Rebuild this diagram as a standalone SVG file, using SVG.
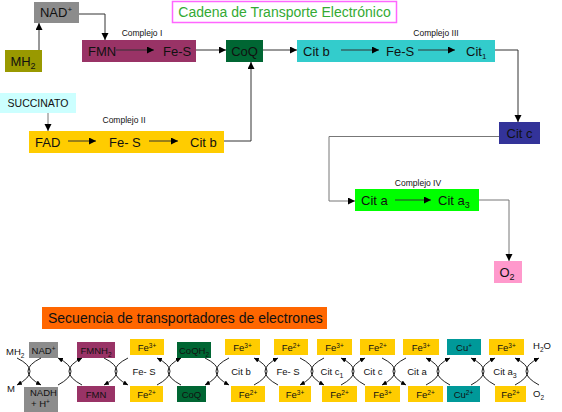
<svg xmlns="http://www.w3.org/2000/svg" width="562" height="412" viewBox="0 0 562 412">
<style>
text{font-family:"Liberation Sans",Arial,sans-serif;fill:#111}
.m{font-size:13px}
.c{font-size:8.5px}
.s{font-size:9.5px}
.t{text-anchor:middle}
.conn path{fill:none;stroke:#333;stroke-width:1}
.conn path.g{stroke:#777}
.arc path{fill:none;stroke:#222;stroke-width:1;marker-end:url(#ah2)}
</style>
<defs>
<marker id="ah" markerUnits="userSpaceOnUse" markerWidth="8" markerHeight="8" refX="7" refY="3.5" orient="auto"><path d="M0,0 L7,3.5 L0,7 z" fill="#000"/></marker>
<marker id="ah2" markerUnits="userSpaceOnUse" markerWidth="6" markerHeight="6" refX="5" refY="2.5" orient="auto"><path d="M0,0 L5,2.5 L0,5 z" fill="#000"/></marker>
</defs>
<rect width="562" height="412" fill="#fff"/>

<g id="title"><rect x="172.5" y="1.5" width="224" height="21" fill="#fff" stroke="#ff66ff" stroke-width="1.5"/><text x="284.5" y="17" class="t" style="font-size:14px;fill:#33aa33">Cadena de Transporte Electrónico</text></g>

<g id="nad"><rect x="34" y="2" width="45" height="21" fill="#8c8c8c"/><text x="56" y="17" class="m t">NAD<tspan font-size="8" dy="-5">+</tspan></text></g>
<g id="mh2"><rect x="5" y="50" width="37" height="22" fill="#999900"/><text x="23" y="66" class="m t">MH<tspan font-size="9" dy="3">2</tspan></text></g>
<g id="complejo1"><rect x="82" y="40" width="114" height="22" fill="#993366"/><text x="142" y="36" class="c t">Complejo I</text><text x="88" y="56" class="m">FMN</text><text x="163" y="56" class="m">Fe-S</text></g>
<g id="coq"><rect x="226" y="40" width="37" height="22" fill="#006633"/><text x="244.5" y="56" class="m t">CoQ</text></g>
<g id="complejo3"><rect x="297" y="40" width="198" height="22" fill="#33cccc"/><text x="436" y="36" class="c t">Complejo III</text><text x="303" y="56" class="m">Cit b</text><text x="386" y="56" class="m">Fe-S</text><text x="466" y="56" class="m">Cit<tspan font-size="8" dy="3">1</tspan></text></g>
<g id="succinato"><rect x="0" y="93" width="76" height="20" fill="#ccffff"/><text x="38" y="107" class="t" style="font-size:10.5px">SUCCINATO</text></g>
<g id="complejo2"><rect x="29" y="131" width="195" height="22" fill="#ffcc00"/><text x="124" y="123" class="c t">Complejo II</text><text x="35" y="147" class="m">FAD</text><text x="109" y="147" class="m">Fe- S</text><text x="190" y="147" class="m">Cit b</text></g>
<g id="citc"><rect x="499" y="122" width="41" height="22" fill="#333399"/><text x="519.5" y="138" class="m t">Cit c</text></g>
<g id="complejo4"><rect x="355" y="189" width="124" height="22" fill="#00ff00"/><text x="418" y="186" class="c t">Complejo IV</text><text x="361" y="205" class="m">Cit a</text><text x="438" y="205" class="m">Cit a<tspan font-size="9" dy="3">3</tspan></text></g>
<g id="o2"><rect x="494" y="261" width="28" height="22" fill="#ff99cc"/><text x="507" y="277" class="m t">O<tspan font-size="9" dy="3">2</tspan></text></g>

<g class="conn">
<path d="M39,50 V23" marker-end="url(#ah)"/>
<path d="M79,14 H105 V40" marker-end="url(#ah)"/>
<path d="M196,50 H226" marker-end="url(#ah)"/>
<path d="M263,50 H297" marker-end="url(#ah)"/>
<path d="M495,50 H518 V122" marker-end="url(#ah)"/>
<path class="g" d="M499,136.5 H329 V201 H355" marker-end="url(#ah)"/>
<path class="g" d="M479,200 H509 V261" marker-end="url(#ah)"/>
<path class="g" d="M48,113 V131" marker-end="url(#ah)"/>
<path d="M224,141 H251 V62" marker-end="url(#ah)"/>
<path d="M116,50 H154" marker-end="url(#ah)"/>
<path d="M68,141 H96" marker-end="url(#ah)"/>
<path d="M149,141 H178" marker-end="url(#ah)"/>
<path d="M341,50 H379" marker-end="url(#ah)"/>
<path d="M418,50 H455" marker-end="url(#ah)"/>
<path d="M395,200 H431" marker-end="url(#ah)"/>
</g>

<g id="secuencia"><rect x="42" y="307" width="285" height="22" fill="#ff6600"/><text x="48" y="323" style="font-size:14px">Secuencia de transportadores de electrones</text></g>

<g id="seq-top" class="s">
<rect x="29" y="342" width="29" height="16" fill="#8c8c8c"/><text x="43.5" y="354" class="s t">NAD<tspan font-size="6.5" dy="-3.5">+</tspan></text>
<rect x="77" y="342" width="38" height="16" fill="#993366"/><text x="96" y="354" class="s t">FMNH<tspan font-size="6.5" dy="2.5">2</tspan></text>
<rect x="130" y="339" width="34" height="16" fill="#ffcc00"/><text x="147" y="351" class="s t">Fe<tspan font-size="6.5" dy="-3.5">3+</tspan></text>
<rect x="177" y="342" width="34" height="16" fill="#006633"/><text x="194" y="354" class="s t">CoQH<tspan font-size="6.5" dy="2.5">2</tspan></text>
<rect x="225" y="339" width="35" height="16" fill="#ffcc00"/><text x="242.5" y="351" class="s t">Fe<tspan font-size="6.5" dy="-3.5">3+</tspan></text>
<rect x="274" y="339" width="34" height="16" fill="#ffcc00"/><text x="291" y="351" class="s t">Fe<tspan font-size="6.5" dy="-3.5">2+</tspan></text>
<rect x="317" y="339" width="35" height="16" fill="#ffcc00"/><text x="334.5" y="351" class="s t">Fe<tspan font-size="6.5" dy="-3.5">3+</tspan></text>
<rect x="360" y="339" width="35" height="16" fill="#ffcc00"/><text x="377.5" y="351" class="s t">Fe<tspan font-size="6.5" dy="-3.5">2+</tspan></text>
<rect x="403" y="339" width="36" height="16" fill="#ffcc00"/><text x="421" y="351" class="s t">Fe<tspan font-size="6.5" dy="-3.5">3+</tspan></text>
<rect x="447" y="339" width="34" height="16" fill="#009999"/><text x="464" y="351" class="s t">Cu<tspan font-size="6.5" dy="-3.5">+</tspan></text>
<rect x="489" y="339" width="35" height="16" fill="#ffcc00"/><text x="506.5" y="351" class="s t">Fe<tspan font-size="6.5" dy="-3.5">3+</tspan></text>
<text x="533" y="349" class="s">H<tspan font-size="6.5" dy="2.5">2</tspan><tspan dy="-2.5">O</tspan></text>
<text x="6" y="355" class="s">MH<tspan font-size="6.5" dy="2.5">2</tspan></text>
</g>

<g id="seq-mid" class="s">
<text x="144" y="375" class="s t">Fe- S</text>
<text x="241" y="375" class="s t">Cit b</text>
<text x="288" y="375" class="s t">Fe- S</text>
<text x="332" y="375" class="s t">Cit c<tspan font-size="7" dy="3">1</tspan></text>
<text x="373" y="375" class="s t">Cit c</text>
<text x="417" y="375" class="s t">Cit a</text>
<text x="505" y="375" class="s t">Cit a<tspan font-size="7" dy="3">3</tspan></text>
</g>

<g id="seq-bottom" class="s">
<rect x="24" y="387" width="34" height="25" fill="#8c8c8c"/><text x="30" y="396" class="s">NADH</text><text x="31" y="407" class="s">+ H<tspan font-size="6.5" dy="-3.5">+</tspan></text>
<rect x="77" y="386" width="38" height="16" fill="#993366"/><text x="96" y="398" class="s t">FMN</text>
<rect x="130" y="386" width="33" height="16" fill="#ffcc00"/><text x="146.5" y="398" class="s t">Fe<tspan font-size="6.5" dy="-3.5">2+</tspan></text>
<rect x="177" y="386" width="29" height="16" fill="#006633"/><text x="191.5" y="398" class="s t">CoQ</text>
<rect x="231" y="386" width="34" height="16" fill="#ffcc00"/><text x="248" y="398" class="s t">Fe<tspan font-size="6.5" dy="-3.5">2+</tspan></text>
<rect x="279" y="386" width="32" height="16" fill="#ffcc00"/><text x="295" y="398" class="s t">Fe<tspan font-size="6.5" dy="-3.5">3+</tspan></text>
<rect x="322" y="386" width="35" height="16" fill="#ffcc00"/><text x="339.5" y="398" class="s t">Fe<tspan font-size="6.5" dy="-3.5">2+</tspan></text>
<rect x="365" y="386" width="35" height="16" fill="#ffcc00"/><text x="382.5" y="398" class="s t">Fe<tspan font-size="6.5" dy="-3.5">3+</tspan></text>
<rect x="408" y="386" width="35" height="16" fill="#ffcc00"/><text x="425.5" y="398" class="s t">Fe<tspan font-size="6.5" dy="-3.5">2+</tspan></text>
<rect x="447" y="386" width="33" height="16" fill="#009999"/><text x="463.5" y="398" class="s t">Cu<tspan font-size="6.5" dy="-3.5">2+</tspan></text>
<rect x="495" y="386" width="31" height="16" fill="#ffcc00"/><text x="510.5" y="398" class="s t">Fe<tspan font-size="6.5" dy="-3.5">2+</tspan></text>
<text x="533" y="397" class="s">O<tspan font-size="6.5" dy="2.5">2</tspan></text>
<text x="7" y="392" class="s">M</text>
</g>

<g class="arc">
<path d="M17,358 Q43,371 17,385"/><path d="M41,358 Q15,371 41,385"/>
<path d="M58,385 Q84,371 58,358"/><path d="M82,385 Q56,371 82,358"/>
<path d="M104,358 Q130,371 104,385"/><path d="M128,358 Q102,371 128,385"/>
<path d="M157,385 Q183,371 157,358"/><path d="M181,385 Q155,371 181,358"/>
<path d="M205,358 Q231,371 205,385"/><path d="M229,358 Q203,371 229,385"/>
<path d="M254,385 Q280,371 254,358"/><path d="M278,385 Q252,371 278,358"/>
<path d="M300,358 Q326,371 300,385"/><path d="M324,358 Q298,371 324,385"/>
<path d="M341,385 Q367,371 341,358"/><path d="M365,385 Q339,371 365,358"/>
<path d="M382,358 Q408,371 382,385"/><path d="M406,358 Q380,371 406,385"/>
<path d="M426,385 Q452,371 426,358"/><path d="M450,385 Q424,371 450,358"/>
<path d="M471,385 Q497,371 471,358"/><path d="M495,385 Q469,371 495,358"/>
<path d="M515,385 Q541,371 515,358"/><path d="M539,385 Q513,371 539,358"/>
</g>
</svg>
